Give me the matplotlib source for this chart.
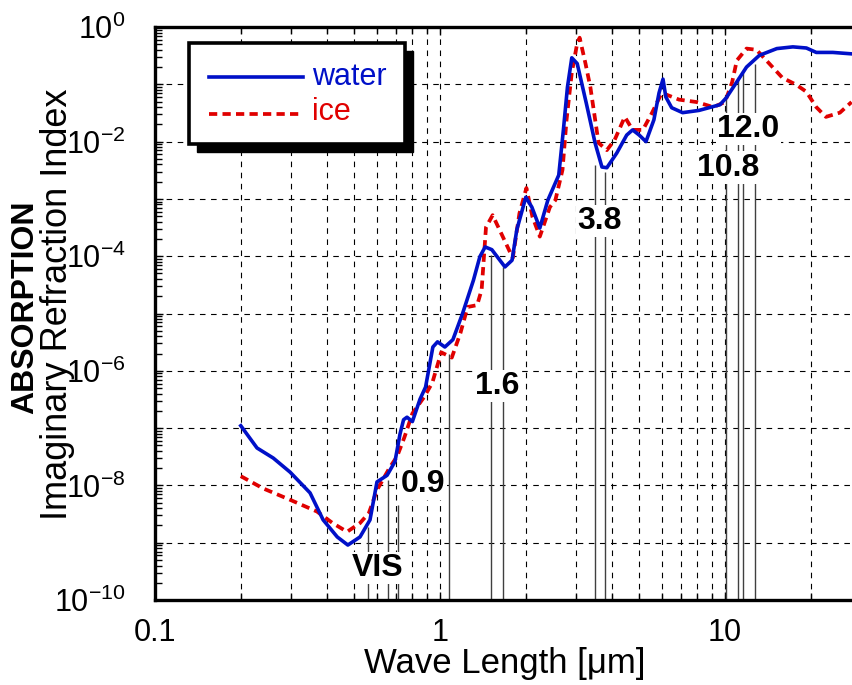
import matplotlib
matplotlib.use("Agg")
import matplotlib.pyplot as plt
from matplotlib.patches import Rectangle
from matplotlib.lines import Line2D
from matplotlib.ticker import LogLocator, FixedLocator, NullFormatter
import numpy as np

plt.rcParams['font.family'] = ['Liberation Sans', 'DejaVu Sans']
plt.rcParams['mathtext.default'] = 'regular'

# wavelength [um] and imaginary refraction index, water
wl_water = [0.2, 0.228, 0.26, 0.298, 0.35, 0.389, 0.436, 0.475, 0.524, 0.568,
            0.601, 0.652, 0.695, 0.724, 0.745, 0.766, 0.80, 0.851, 0.89, 0.944,
            0.98, 1.04, 1.11, 1.2, 1.31, 1.38, 1.44, 1.52, 1.69, 1.79,
            1.86, 2.0, 2.1, 2.24, 2.39, 2.61, 2.71, 2.8, 2.9, 3.03,
            3.26, 3.5, 3.7, 3.85, 4.17, 4.52, 4.74, 5.0, 5.28, 5.63,
            5.87, 6.06, 6.2, 6.5, 7.1, 8.1, 9.6, 10.1, 11.0, 11.9,
            13.2, 15.2, 17.3, 19.3, 20.9, 23.9, 27.8]
k_water = [1.1e-7, 4.5e-8, 3.0e-8, 1.7e-8, 7.4e-9, 2.5e-9, 1.26e-9, 9.1e-10, 1.26e-9, 2.5e-9,
           1.15e-8, 1.5e-8, 2.6e-8, 7.9e-8, 1.4e-7, 1.55e-7, 1.3e-7, 3.2e-7, 5.2e-7, 2.6e-6,
           3.2e-6, 2.6e-6, 3.5e-6, 1.0e-5, 3.8e-5, 9.8e-5, 1.45e-4, 1.3e-4, 6.5e-5, 8.5e-5,
           2.9e-4, 1.07e-3, 7.2e-4, 3.1e-4, 9.5e-4, 2.6e-3, 1.6e-2, 8.9e-2, 2.9e-1, 2.3e-1,
           4.7e-2, 9.5e-3, 3.6e-3, 3.5e-3, 6.3e-3, 1.3e-2, 1.6e-2, 1.3e-2, 1.0e-2, 2.4e-2,
           7.1e-2, 1.23e-1, 6.0e-2, 3.9e-2, 3.2e-2, 3.5e-2, 4.4e-2, 5.8e-2, 1.1e-1, 2.0e-1,
           3.2e-1, 4.2e-1, 4.5e-1, 4.3e-1, 3.6e-1, 3.6e-1, 3.4e-1]

# ice
wl_ice = [0.2, 0.239, 0.298, 0.37, 0.42, 0.472, 0.524, 0.563, 0.601, 0.668,
          0.707, 0.75, 0.80, 0.88, 0.94, 1.01, 1.1, 1.18, 1.25, 1.35,
          1.4, 1.45, 1.53, 1.66, 1.8, 1.9, 2.01, 2.11, 2.24, 2.43,
          2.54, 2.69, 2.78, 2.9, 3.03, 3.09, 3.24, 3.37, 3.6, 3.85,
          4.1, 4.45, 4.74, 5.15, 5.55, 6.0, 6.9, 7.95, 9.1, 10.0,
          10.6, 11.0, 11.9, 12.9, 14.3, 15.9, 17.8, 19.3, 20.9, 22.6,
          25.3, 27.8]
k_ice = [1.45e-8, 8.9e-9, 5.6e-9, 3.5e-9, 2.2e-9, 1.55e-9, 2.2e-9, 3.3e-9, 8.3e-9, 2.1e-8,
         3.2e-8, 6.9e-8, 1.8e-7, 3.5e-7, 6.2e-7, 2.1e-6, 1.7e-6, 4.6e-6, 1.3e-5, 1.4e-5,
         2.6e-5, 3.2e-4, 5.2e-4, 2.2e-4, 9.3e-5, 5.6e-4, 1.55e-3, 4.9e-4, 2.2e-4, 7.2e-4,
         9.5e-4, 3.2e-3, 2.4e-2, 1.6e-1, 5.2e-1, 6.5e-1, 2.3e-1, 8.9e-2, 9.5e-3, 7.1e-3,
         1.07e-2, 2.7e-2, 1.6e-2, 1.6e-2, 3.2e-2, 7.1e-2, 5.4e-2, 4.9e-2, 4.0e-2, 4.9e-2,
         1.1e-1, 2.6e-1, 4.2e-1, 4.0e-1, 2.3e-1, 1.3e-1, 9.8e-2, 7.4e-2, 4.0e-2, 2.7e-2,
         3.2e-2, 4.9e-2]

# satellite channel edges [um] and how high each marker line reaches
band_edges = [0.559, 0.657, 0.71, 1.076, 1.507, 1.66, 3.5, 3.79, 10.1, 11.1, 11.6, 12.7]
band_tops = [1.9e-9, 1.26e-8, 4.6e-9, 2.0e-6, 1.05e-4, 6.5e-5, 3.9e-3, 2.95e-3, 6.5e-2, 1.35e-1, 1.6e-1, 2.3e-1]

band_labels = ['VIS', '0.9', '1.6', '3.8', '12.0', '10.8']
label_x = [0.606, 0.872, 1.585, 3.64, 12.1, 10.3]
label_y = [3.6e-10, 1.05e-8, 5.4e-7, 4.1e-4, 1.66e-2, 3.5e-3]

W, H = 852, 685
fig = plt.figure(figsize=(W / 100, H / 100), dpi=100)
ax = fig.add_axes([155 / W, 1 - 600 / H, (W - 155) / W, (600 - 27) / H])

ax.set_xscale('log')
ax.set_yscale('log')
ax.set_xlim(0.1, 10 ** (-1 + (W - 155) / 285))
ax.set_ylim(1e-10, 1)

# grid
ax.xaxis.set_minor_locator(LogLocator(base=10, subs=np.arange(2, 10)))
ax.yaxis.set_minor_locator(LogLocator(base=10, subs=np.arange(2, 10), numticks=20))
ax.xaxis.set_minor_formatter(NullFormatter())
ax.yaxis.set_minor_formatter(NullFormatter())
ax.grid(True, which='both', axis='x', color='black', linestyle=(0, (5, 5)), linewidth=0.8)
ax.grid(True, which='major', axis='y', color='black', linestyle=(0, (5, 5)), linewidth=0.8)

ax.yaxis.set_major_locator(FixedLocator([10.0 ** e for e in range(-10, 1)]))
ax.set_yticklabels([r'$10^{%d}$' % e if e % 2 == 0 else '' for e in range(-10, 1)])
ax.set_xticks([0.1, 1, 10])
ax.set_xticklabels(['0.1', '1', '10'])

ax.tick_params(which='both', direction='in', top=True, right=False, width=1)
ax.tick_params(which='major', length=6, labelsize=22)
ax.tick_params(which='minor', length=5)
ax.tick_params(axis='y', pad=21)
ax.tick_params(axis='x', pad=13)

for s in ['left', 'bottom', 'top']:
    ax.spines[s].set_linewidth(2.4)
ax.spines['right'].set_visible(False)

# channel marker lines
ax.vlines(band_edges, 1e-10, band_tops, colors='#404040', linewidth=1.0, zorder=2)

for t, x, y in zip(band_labels, label_x, label_y):
    ax.text(x, y, t, fontsize=23, fontweight='bold', ha='center', va='center', zorder=3,
            bbox=dict(facecolor='white', edgecolor='none', pad=1.0))

ax.plot(wl_ice, k_ice, color='#E00000', linestyle=(0, (2.2, 1.4)), linewidth=2.7, zorder=4)
ax.plot(wl_water, k_water, color='#0010C8', linestyle='-', linewidth=2.6, zorder=5)

fig.text(505 / W, 1 - 664 / H, 'Wave Length [μm]', fontsize=25, ha='center', va='center')

fig.text(25 / W, 1 - 307 / H, 'ABSORPTION', rotation=90, fontsize=23, fontweight='bold',
         ha='center', va='center')
fig.text(58 / W, 1 - 304 / H, 'Imaginary Refraction Index', rotation=90, fontsize=26,
         ha='center', va='center')

# legend box with black drop shadow
def fx(px):
    return px / W

def fy(py):
    return 1 - py / H

fig.patches.append(Rectangle((fx(197), fy(152)), (405 - 189) / W, (144 - 43) / H,
                             transform=fig.transFigure, facecolor='black', edgecolor='black',
                             zorder=10))
fig.patches.append(Rectangle((fx(189), fy(144)), (405 - 189) / W, (144 - 43) / H,
                             transform=fig.transFigure, facecolor='white', edgecolor='black',
                             linewidth=2.6, zorder=11))
fig.lines.append(Line2D([fx(209), fx(303)], [fy(77), fy(77)], transform=fig.transFigure,
                        color='#0010C8', linewidth=2.6, zorder=12))
fig.lines.append(Line2D([fx(209), fx(303)], [fy(114), fy(114)], transform=fig.transFigure,
                        color='#E00000', linewidth=2.7, linestyle=(0, (2.2, 1.4)), zorder=12))
fig.text(fx(312), fy(77), 'water', color='#0010C8', fontsize=22, va='center', ha='left', zorder=13)
fig.text(fx(312), fy(112), 'ice', color='#E00000', fontsize=22, va='center', ha='left', zorder=13)

fig.savefig('out.png', dpi=100)
